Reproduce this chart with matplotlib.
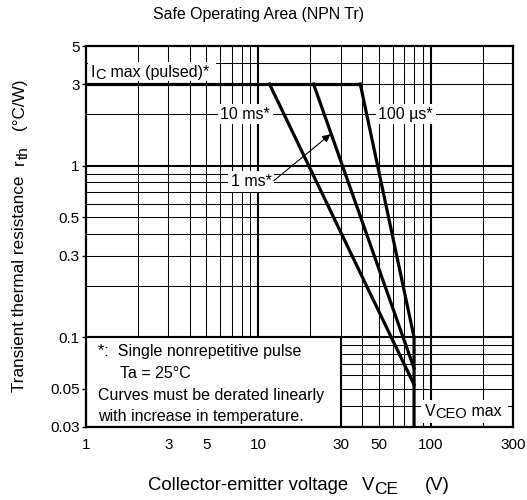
import matplotlib
matplotlib.use("Agg")
import matplotlib.pyplot as plt
from matplotlib.patches import Rectangle
from matplotlib.transforms import IdentityTransform

plt.rcParams['font.family'] = ['Liberation Sans', 'DejaVu Sans']

W, H = 527, 500

# curves (V, degC/W)
ic_x = [1, 39]
ic_y = [3, 3]
t10ms_x = [11.6, 80]
t10ms_y = [3, 0.053]
t1ms_x = [20.9, 80]
t1ms_y = [3, 0.066]
t100us_x = [39, 80, 80]
t100us_y = [3, 0.1, 0.03]

xticks = [1, 3, 5, 10, 30, 50, 100, 300]
yticks = [0.03, 0.05, 0.1, 0.3, 0.5, 1, 3, 5]
ytick_labels = ['0.03', '0.05', '0.1', '0.3', '0.5', '1', '3', '5']
xgrid = [2, 3, 4, 5, 6, 7, 8, 9, 20, 30, 40, 50, 60, 70, 80, 90, 200]
xgrid_dec = [10, 100]
ygrid = [0.04, 0.05, 0.06, 0.07, 0.08, 0.09, 0.2, 0.3, 0.4, 0.5, 0.6, 0.7,
         0.8, 0.9, 2, 3, 4]
ygrid_dec = [0.1, 1]

fig = plt.figure(figsize=(W/100, H/100), dpi=100)
ax = fig.add_axes([86/W, 1-427/H, 427/W, 381/H])
ax.set_xscale('log')
ax.set_yscale('log')
ax.set_xlim(1, 300)
ax.set_ylim(0.03, 5)
rend = fig.canvas.get_renderer()
ID = IdentityTransform()

for v in xgrid:
    ax.axvline(v, color='black', lw=0.75, zorder=1)
for v in xgrid_dec:
    ax.axvline(v, color='black', lw=1.5, zorder=1)
for v in ygrid:
    ax.axhline(v, color='black', lw=0.75, zorder=1)
for v in ygrid_dec:
    ax.axhline(v, color='black', lw=1.5, zorder=1)

ax.set_xticks(xticks)
ax.set_xticklabels([str(t) for t in xticks])
ax.set_yticks(yticks)
ax.set_yticklabels(ytick_labels)
ax.minorticks_off()
ax.tick_params(axis='x', length=0, pad=8, labelsize=11)
ax.tick_params(axis='y', length=3, width=1, pad=1.5, labelsize=11)
for s in ax.spines.values():
    s.set_linewidth(1.6)
    s.set_zorder(10)


def run(x, y, parts, rot=False, z=5):
    # parts: (text, size, drop) placed one after another, pixel coords from top-left
    for txt, size, drop in parts:
        if rot:
            t = fig.text(x + drop, H - y, txt, fontsize=size, rotation=90,
                         rotation_mode='anchor', ha='left', va='baseline',
                         transform=ID, zorder=z)
            y -= t.get_window_extent(rend).height
        else:
            t = ax.text(x, H - y - drop, txt, fontsize=size, ha='left',
                        va='baseline', transform=ID, zorder=z)
            x += t.get_window_extent(rend).width


# note box
ax.add_patch(Rectangle((1, 0.03), 29, 0.07, facecolor='white',
                       edgecolor='black', lw=1.5, zorder=4))
fs = 11.5
ax.text(1.17, 0.0822, '*:  Single nonrepetitive pulse', fontsize=fs, va='center', zorder=5)
ax.text(1.58, 0.0619, 'Ta = 25°C', fontsize=fs, va='center', zorder=5)
ax.text(1.17, 0.0461, 'Curves must be derated linearly', fontsize=fs, va='center', zorder=5)
ax.text(1.17, 0.0344, 'with increase in temperature.', fontsize=fs, va='center', zorder=5)

lw = 2.3
ax.plot(ic_x, ic_y, color='black', lw=lw, zorder=6, solid_capstyle='butt')
ax.plot(t10ms_x, t10ms_y, color='black', lw=lw, zorder=6)
ax.plot(t1ms_x, t1ms_y, color='black', lw=lw, zorder=6)
ax.plot(t100us_x, t100us_y, color='black', lw=lw, zorder=6)

box = dict(facecolor='white', edgecolor='none', pad=2)
ax.add_patch(Rectangle((88, H - 81), 128, 19, transform=ID, facecolor='white',
                       edgecolor='none', zorder=4.5))
run(91, 77, [('I', 11.5, 0), ('C', 10.5, 2), (' max (pulsed)*', 11.5, 0)])
ax.text(8.4, 2, '10 ms*', fontsize=fs, va='center', ha='center', bbox=box, zorder=5)
ax.text(71.6, 2, '100 µs*', fontsize=fs, va='center', ha='center', bbox=box, zorder=5)
ax.text(9.1, 0.81, '1 ms*', fontsize=fs, va='center', ha='center', bbox=box, zorder=5)
ax.annotate('', xy=(26.2, 1.53), xytext=(12.3, 0.82),
            arrowprops=dict(arrowstyle='-|>', color='black', lw=0.8,
                            mutation_scale=12, shrinkA=0, shrinkB=0), zorder=7)
ax.add_patch(Rectangle((421, H - 423), 87, 23, transform=ID, facecolor='white',
                       edgecolor='none', zorder=4.5))
run(425, 416, [('V', 11.5, 0), ('CEO', 10.5, 2), (' max', 11.5, 0)])

fig.text(0.49, 0.97, 'Safe Operating Area (NPN Tr)', fontsize=11.4,
         ha='center', va='center')
# x label
fig.text(148, H - 490, 'Collector-emitter voltage', fontsize=13.3, va='baseline',
         transform=ID)
run(362, 490, [('V', 13.3, 0), ('CE', 12.5, 4)])
fig.text(425, H - 490, '(V)', fontsize=13.3, va='baseline', transform=ID)
# y label
run(24, 392, [('Transient thermal resistance', 12.3, 0)], rot=True)
run(24, 165, [('r', 12.3, 0), ('th', 11, 4)], rot=True)
run(24, 130, [('(°C/W)', 12.3, 0)], rot=True)

fig.savefig('out.png', dpi=100)
